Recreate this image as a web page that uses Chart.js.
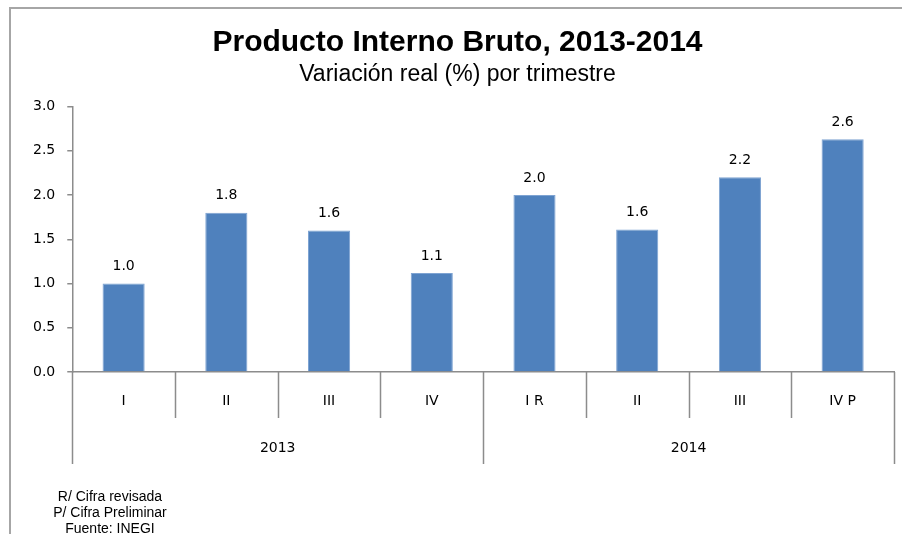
<!DOCTYPE html>
<html>
<head>
<meta charset="utf-8">
<script src="https://cdn.jsdelivr.net/npm/chart.js@4"></script>
<style>
  html, body { margin: 0; padding: 0; background: #fff; }
  #wrap { position: relative; width: 902px; height: 534px; }
  #frame { position: absolute; left: 9px; top: 7px; width: 900px; height: 540px;
           border-left: 2px solid #a6a6a6; border-top: 2px solid #a6a6a6; box-sizing: border-box; }
  #notes { position: absolute; left: 30px; top: 488px; width: 160px; text-align: center;
           font-family: 'Liberation Sans', Arial, sans-serif; font-size: 14px; line-height: 16px; color: #000; }
</style>
</head>
<body>
<div id="wrap">
  <canvas id="pib" width="902" height="534"></canvas>
  <div id="frame"></div>
  <div id="notes">R/ Cifra revisada<br>P/ Cifra Preliminar<br>Fuente: INEGI</div>
</div>
<script>
// Datos: variación real (%) del PIB por trimestre
const quarters = ['I', 'II', 'III', 'IV', 'I R', 'II', 'III', 'IV P'];
const years = ['2013', '2014'];
const quartersPerYear = 4;
const values = [1.0, 1.8, 1.6, 1.12, 2.0, 1.61, 2.2, 2.63];
const yTicks = [0, 0.5, 1.0, 1.5, 2.0, 2.5, 3.0];

const AXIS = '#8c8c8c';

// Etiquetas de valor sobre cada barra
const valueLabels = {
  id: 'valueLabels',
  afterDatasetsDraw(chart) {
    const ctx = chart.ctx;
    const meta = chart.getDatasetMeta(0);
    ctx.save();
    ctx.font = '14px "DejaVu Sans"';
    ctx.fillStyle = '#000';
    ctx.textAlign = 'center';
    ctx.textBaseline = 'middle';
    meta.data.forEach((bar, i) => {
      ctx.fillText(values[i].toFixed(1), bar.x, bar.y - 17);
    });
    ctx.restore();
  }
};

// Eje de categorías en dos niveles (trimestre / año)
const groupAxis = {
  id: 'groupAxis',
  afterDraw(chart) {
    const ctx = chart.ctx;
    const x = chart.scales.x;
    const top = chart.chartArea.bottom;
    const step = x.width / quarters.length;
    ctx.save();
    ctx.strokeStyle = AXIS;
    ctx.lineWidth = 1.5;
    ctx.beginPath();
    for (let i = 0; i <= quarters.length; i++) {
      const px = Math.round(x.left + i * step) + 0.5;
      const long = i % quartersPerYear === 0;
      ctx.moveTo(px, top);
      ctx.lineTo(px, top + (long ? 92 : 46));
    }
    ctx.stroke();
    ctx.font = '14px "DejaVu Sans"';
    ctx.fillStyle = '#000';
    ctx.textAlign = 'center';
    ctx.textBaseline = 'middle';
    quarters.forEach((q, i) => {
      ctx.fillText(q, x.left + (i + 0.5) * step, top + 29);
    });
    years.forEach((y, i) => {
      ctx.fillText(y, x.left + (i + 0.5) * step * quartersPerYear, top + 76);
    });
    ctx.restore();
  }
};

new Chart(document.getElementById('pib'), {
  type: 'bar',
  data: {
    labels: quarters,
    datasets: [{
      data: values,
      backgroundColor: '#4f81bd',
      borderColor: '#7ea3d2',
      borderWidth: { left: 1, right: 1, top: 1, bottom: 0 },
      categoryPercentage: 1,
      barPercentage: 0.41
    }]
  },
  options: {
    responsive: false,
    animation: false,
    events: [],
    layout: { padding: { left: 21, right: 8, top: 1, bottom: 154 } },
    plugins: {
      legend: { display: false },
      tooltip: { enabled: false },
      title: {
        display: true,
        text: 'Producto Interno Bruto, 2013-2014',
        color: '#000',
        font: { family: 'Liberation Sans', size: 30, weight: 'bold' },
        padding: { top: 24, bottom: 0 }
      },
      subtitle: {
        display: true,
        text: 'Variación real (%) por trimestre',
        color: '#000',
        font: { family: 'Liberation Sans', size: 23 },
        padding: { top: 0, bottom: 18 }
      }
    },
    scales: {
      x: {
        ticks: { display: false },
        grid: { display: false },
        border: { display: true, color: AXIS, width: 1.5 }
      },
      y: {
        min: 0,
        max: 3,
        afterBuildTicks(scale) { scale.ticks = yTicks.map(v => ({ value: v })); },
        ticks: {
          color: '#000',
          padding: 12,
          font: { family: 'DejaVu Sans', size: 14 },
          callback: v => v.toFixed(1)
        },
        grid: { drawOnChartArea: false, tickLength: 5, color: AXIS, lineWidth: 1.5 },
        border: { display: true, color: AXIS, width: 1.5 }
      }
    }
  },
  plugins: [valueLabels, groupAxis]
});
</script>
</body>
</html>
